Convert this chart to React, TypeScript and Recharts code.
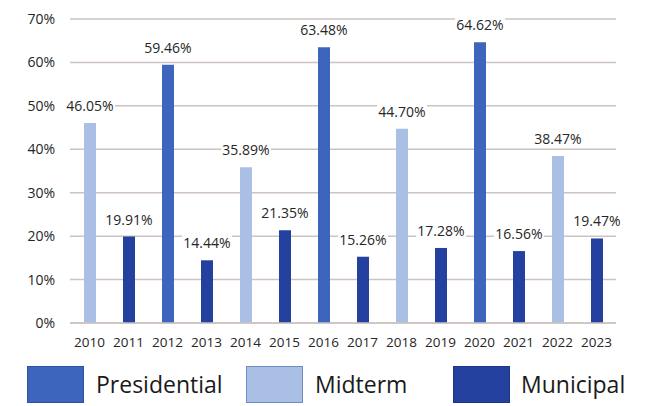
import { BarChart, Bar, Cell, XAxis, YAxis, CartesianGrid, LabelList } from "recharts";

const years = ["2010", "2011", "2012", "2013", "2014", "2015", "2016", "2017", "2018", "2019", "2020", "2021", "2022", "2023"];
const kinds = ["Midterm", "Municipal", "Presidential", "Municipal", "Midterm", "Municipal", "Presidential", "Municipal", "Midterm", "Municipal", "Presidential", "Municipal", "Midterm", "Municipal"];
const turnout = [46.05, 19.91, 59.46, 14.44, 35.89, 21.35, 63.48, 15.26, 44.7, 17.28, 64.62, 16.56, 38.47, 19.47];
const yTicks = [0, 10, 20, 30, 40, 50, 60, 70];
const legendItems = ["Presidential", "Midterm", "Municipal"];

const COLORS: Record<string, string> = {
  Presidential: "#3d65bd",
  Midterm: "#a9c0e4",
  Municipal: "#2441a0",
};
const BORDERS: Record<string, string> = {
  Presidential: "#2f52a0",
  Midterm: "#6f8cc4",
  Municipal: "#1d3588",
};

const data = years.map((year, i) => ({ year, kind: kinds[i], value: turnout[i] }));

const FONT = "'Open Sans', 'Noto Sans', sans-serif";

function ValueLabel(props: any) {
  const { x, y, width, value } = props;
  const cx = x + width / 2;
  const txt = `${value.toFixed(2)}%`;
  return (
    <g>
      <rect x={cx - 25} y={y - 26} width={50} height={17} fill="#ffffff" />
      <text x={cx} y={y - 12} textAnchor="middle" fontSize={14} fill="#262626" fontFamily={FONT}>
        {txt}
      </text>
    </g>
  );
}

export default function App() {
  return (
    <div style={{ position: "absolute", left: 0, top: 0, width: 654, height: 406, background: "#fff" }}>
      <BarChart width={654} height={406} data={data} margin={{ top: 19, right: 38, bottom: 58, left: 0 }}>
        <CartesianGrid vertical={false} stroke="#cdc3c0" strokeWidth={1.5} />
        <XAxis
          dataKey="year"
          axisLine={{ stroke: "#cdc3c0", strokeWidth: 1.5 }}
          tickLine={false}
          tickSize={0}
          tickMargin={14}
          interval={0}
          height={25}
          tick={{ fontSize: 13.5, fill: "#262626", fontFamily: FONT }}
        />
        <YAxis
          width={70}
          domain={[0, 70]}
          ticks={yTicks}
          axisLine={false}
          tickLine={false}
          tickSize={0}
          tickMargin={15}
          tickFormatter={(v: number) => `${v}%`}
          tick={{ fontSize: 14, fill: "#262626", fontFamily: FONT }}
        />
        <Bar dataKey="value" barSize={12} isAnimationActive={false}>
          {data.map((d, i) => (
            <Cell key={`c-${i}`} fill={COLORS[d.kind]} />
          ))}
          <LabelList dataKey="value" content={ValueLabel} />
        </Bar>
      </BarChart>
      {legendItems.map((name, i) => {
        const lefts = [27, 246, 453];
        return (
          <div
            key={name}
            style={{ position: "absolute", left: lefts[i], top: 366, display: "flex", alignItems: "center" }}
          >
            <div
              style={{
                width: 57,
                height: 37,
                boxSizing: "border-box",
                background: COLORS[name],
                border: `1.5px solid ${BORDERS[name]}`,
              }}
            />
            <span
              style={{
                marginLeft: i === 2 ? 11 : 12,
                fontFamily: FONT,
                fontSize: 23,
                color: "#1a1a1a",
                lineHeight: "37px",
              }}
            >
              {name}
            </span>
          </div>
        );
      })}
    </div>
  );
}
